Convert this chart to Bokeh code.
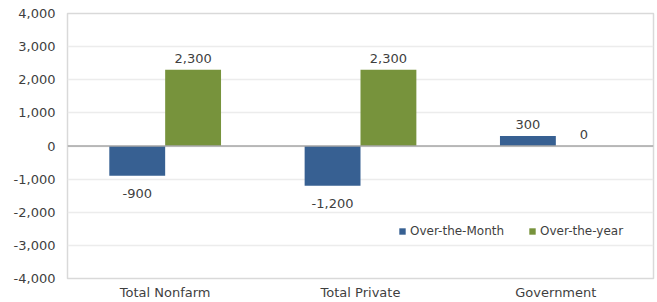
from bokeh.plotting import figure
from bokeh.models import (ColumnDataSource, FactorRange, FixedTicker, NumeralTickFormatter,
                          Span, Legend, LegendItem, LabelSet)
from bokeh.core.properties import value
from bokeh.transform import dodge
from bokeh.embed import file_html
from bokeh.resources import INLINE

categories = ["Total Nonfarm", "Total Private", "Government"]
over_month = [-900, -1200, 300]
over_year = [2300, 2300, 0]
series_names = ["Over-the-Month", "Over-the-year"]
y_ticks = [-4000, -3000, -2000, -1000, 0, 1000, 2000, 3000, 4000]

FONT = "DejaVu Sans"
TXT = "#3f3f3f"
BLUE = "#376092"
GREEN = "#77933c"

src = ColumnDataSource(dict(
    cat=categories,
    m=over_month,
    y=over_year,
    m_lbl=[f"{v:,}" for v in over_month],
    y_lbl=[f"{v:,}" for v in over_year],
    m_off=[-22 if v < 0 else 7 for v in over_month],
    y_off=[-22 if v < 0 else 7 for v in over_year],
))

p = figure(x_range=FactorRange(*categories, range_padding=0), y_range=(-4000, 4000),
           width=657, height=302, output_backend="svg", toolbar_location=None,
           min_border_left=67, min_border_right=4, min_border_top=13, min_border_bottom=24)

r1 = p.vbar(x=dodge("cat", -0.143, range=p.x_range), top="m", width=0.286, source=src,
            fill_color=BLUE, line_color=None)
r2 = p.vbar(x=dodge("cat", 0.143, range=p.x_range), top="y", width=0.286, source=src,
            fill_color=GREEN, line_color=None)

p.add_layout(Span(location=0, dimension="width", line_color="#a6a6a6", line_width=1.5))

for xo, col, off in [(-0.143, "m", "m_off"), (0.143, "y", "y_off")]:
    ls = LabelSet(x=dodge("cat", xo, range=p.x_range), y=col, text=col + "_lbl", source=src,
                  text_align="center", text_baseline="bottom", y_offset=off,
                  text_font=value(FONT), text_font_size="13px", text_color=TXT)
    p.add_layout(ls)

p.yaxis.ticker = FixedTicker(ticks=y_ticks)
p.yaxis.formatter = NumeralTickFormatter(format="0,0")
for ax in (p.xaxis, p.yaxis):
    ax.axis_line_color = None
    ax.major_tick_line_color = None
    ax.minor_tick_line_color = None
    ax.major_tick_out = 0
    ax.major_tick_in = 0
    ax.minor_tick_out = 0
    ax.minor_tick_in = 0
    ax.major_label_text_font = FONT
    ax.major_label_text_font_size = "13px"
    ax.major_label_text_color = TXT
p.yaxis.major_label_standoff = 12
p.xaxis.major_label_standoff = 6

p.xgrid.grid_line_color = None
p.ygrid.grid_line_color = "#ececec"
p.ygrid.grid_line_width = 1.5
p.outline_line_color = "#d9d9d9"
p.outline_line_width = 1.5

legend = Legend(items=[LegendItem(label=series_names[0], renderers=[r1]),
                       LegendItem(label=series_names[1], renderers=[r2])],
                orientation="horizontal", location=(331, 40),
                glyph_width=8, glyph_height=8, label_standoff=4, spacing=24,
                padding=0, margin=0, border_line_color=None, background_fill_alpha=0,
                label_text_font=FONT, label_text_font_size="12px", label_text_color=TXT)
p.add_layout(legend)

open("out.html", "w").write(file_html(p, INLINE))
